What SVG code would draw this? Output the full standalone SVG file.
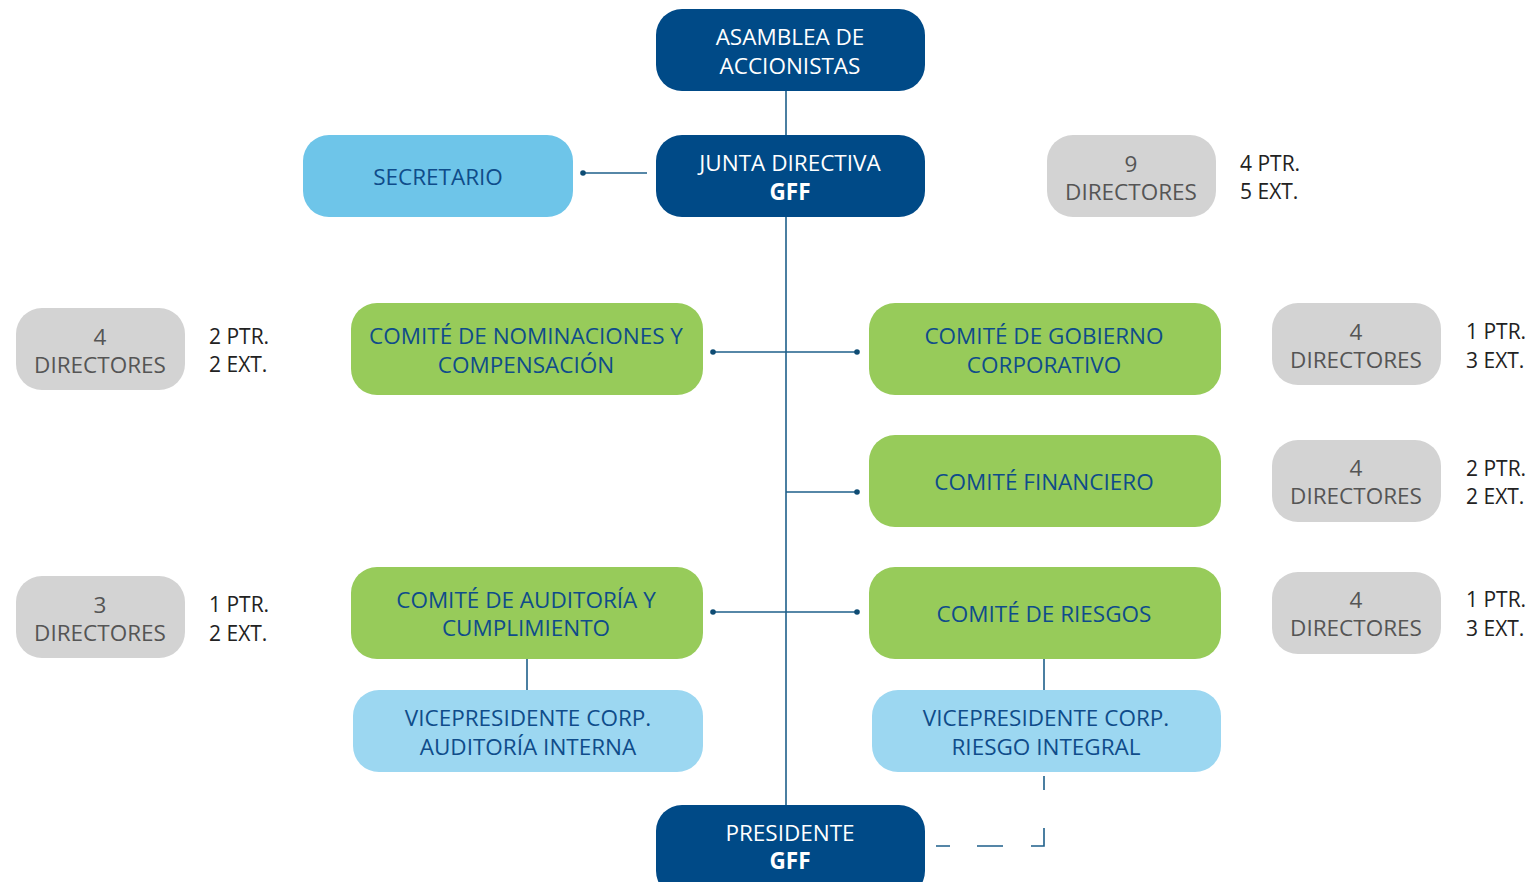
<svg xmlns="http://www.w3.org/2000/svg" width="1527" height="882" viewBox="0 0 1527 882">
<style>
text{font-family:"Open Sans","Noto Sans",sans-serif;font-size:22.5px;text-anchor:middle}
.dark{fill:#004A87}
.w{fill:#fff}
.green{fill:#97CB5A}
.sec{fill:#6EC5E9}
.vp{fill:#9CD7F1}
.gray{fill:#D3D3D3}
.b{fill:#0F4C8A}
.g{fill:#555}
.k{fill:#222;text-anchor:start;font-size:21px}
.ln{stroke:#1E5F8A;stroke-width:1.6;fill:none}
.dot{fill:#0E4C74}
</style>
<g id="connectors">
<path class="ln" d="M786 91V805"/>
<path class="ln" d="M583 173H647"/>
<circle class="dot" cx="583" cy="173" r="2.8"/>
<path class="ln" d="M713 352H857"/>
<circle class="dot" cx="713" cy="352" r="2.8"/>
<circle class="dot" cx="857" cy="352" r="2.8"/>
<path class="ln" d="M786 492H857"/>
<circle class="dot" cx="857" cy="492" r="2.8"/>
<path class="ln" d="M713 612H857"/>
<circle class="dot" cx="713" cy="612" r="2.8"/>
<circle class="dot" cx="857" cy="612" r="2.8"/>
<path class="ln" d="M527 659V690"/>
<path class="ln" d="M1044 659V690"/>
<path class="ln" d="M1044 776V846H936" stroke-dasharray="14 38 31 28 26 27 14"/>
</g>
<g id="asamblea"><rect class="dark" x="656" y="9" width="269" height="82" rx="26"/><text class="w" x="790" y="45">ASAMBLEA DE</text><text class="w" x="790" y="74">ACCIONISTAS</text></g>
<g id="junta"><rect class="dark" x="656" y="135" width="269" height="82" rx="26"/><text class="w" x="790" y="171">JUNTA DIRECTIVA</text><text class="w" x="790" y="200" font-weight="bold">GFF</text></g>
<g id="secretario"><rect class="sec" x="303" y="135" width="270" height="82" rx="26"/><text class="b" x="438" y="185">SECRETARIO</text></g>
<g id="dir9"><rect class="gray" x="1047" y="135" width="169" height="82" rx="26"/><text class="g" x="1131" y="172">9</text><text class="g" x="1131" y="200">DIRECTORES</text></g>
<g id="dir9-txt"><text class="k" x="1240" y="171">4 PTR.</text><text class="k" x="1240" y="199">5 EXT.</text></g>
<g id="nominaciones"><rect class="green" x="351" y="303" width="352" height="92" rx="26"/><text class="b" x="526" y="344">COMITÉ DE NOMINACIONES Y</text><text class="b" x="526" y="373">COMPENSACIÓN</text></g>
<g id="gobierno"><rect class="green" x="869" y="303" width="352" height="92" rx="26"/><text class="b" x="1044" y="344">COMITÉ DE GOBIERNO</text><text class="b" x="1044" y="373">CORPORATIVO</text></g>
<g id="financiero"><rect class="green" x="869" y="435" width="352" height="92" rx="26"/><text class="b" x="1044" y="490">COMITÉ FINANCIERO</text></g>
<g id="auditoria"><rect class="green" x="351" y="567" width="352" height="92" rx="26"/><text class="b" x="526" y="608">COMITÉ DE AUDITORÍA Y</text><text class="b" x="526" y="636">CUMPLIMIENTO</text></g>
<g id="riesgos"><rect class="green" x="869" y="567" width="352" height="92" rx="26"/><text class="b" x="1044" y="622">COMITÉ DE RIESGOS</text></g>
<g id="dir4-nom"><rect class="gray" x="16" y="308" width="169" height="82" rx="26"/><text class="g" x="100" y="345">4</text><text class="g" x="100" y="373">DIRECTORES</text></g>
<g id="dir4-nom-txt"><text class="k" x="209" y="344">2 PTR.</text><text class="k" x="209" y="372">2 EXT.</text></g>
<g id="dir3-aud"><rect class="gray" x="16" y="576" width="169" height="82" rx="26"/><text class="g" x="100" y="613">3</text><text class="g" x="100" y="641">DIRECTORES</text></g>
<g id="dir3-aud-txt"><text class="k" x="209" y="612">1 PTR.</text><text class="k" x="209" y="641">2 EXT.</text></g>
<g id="dir4-gob"><rect class="gray" x="1272" y="303" width="169" height="82" rx="26"/><text class="g" x="1356" y="340">4</text><text class="g" x="1356" y="368">DIRECTORES</text></g>
<g id="dir4-gob-txt"><text class="k" x="1466" y="339">1 PTR.</text><text class="k" x="1466" y="368">3 EXT.</text></g>
<g id="dir4-fin"><rect class="gray" x="1272" y="440" width="169" height="82" rx="26"/><text class="g" x="1356" y="476">4</text><text class="g" x="1356" y="504">DIRECTORES</text></g>
<g id="dir4-fin-txt"><text class="k" x="1466" y="476">2 PTR.</text><text class="k" x="1466" y="504">2 EXT.</text></g>
<g id="dir4-rie"><rect class="gray" x="1272" y="572" width="169" height="82" rx="26"/><text class="g" x="1356" y="608">4</text><text class="g" x="1356" y="636">DIRECTORES</text></g>
<g id="dir4-rie-txt"><text class="k" x="1466" y="607">1 PTR.</text><text class="k" x="1466" y="636">3 EXT.</text></g>
<g id="vp-auditoria"><rect class="vp" x="353" y="690" width="350" height="82" rx="26"/><text class="b" x="528" y="726">VICEPRESIDENTE CORP.</text><text class="b" x="528" y="755">AUDITORÍA INTERNA</text></g>
<g id="vp-riesgo"><rect class="vp" x="872" y="690" width="349" height="82" rx="26"/><text class="b" x="1046" y="726">VICEPRESIDENTE CORP.</text><text class="b" x="1046" y="755">RIESGO INTEGRAL</text></g>
<g id="presidente"><rect class="dark" x="656" y="805" width="269" height="92" rx="26"/><text class="w" x="790" y="841">PRESIDENTE</text><text class="w" x="790" y="869" font-weight="bold">GFF</text></g>
</svg>
